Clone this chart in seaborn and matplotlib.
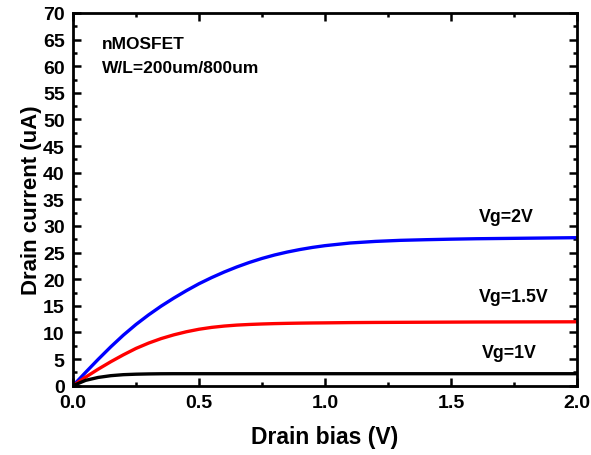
import numpy as np
import pandas as pd
import matplotlib
matplotlib.use("Agg")
import matplotlib.pyplot as plt
import seaborn as sns
from matplotlib.ticker import MultipleLocator, FormatStrFormatter

# Drain bias (V)
vd = [0.0, 0.05, 0.1, 0.15, 0.2, 0.25, 0.3, 0.35, 0.4, 0.45, 0.5, 0.55, 0.6,
      0.65, 0.7, 0.75, 0.8, 0.85, 0.9, 0.95, 1.0,
      1.1, 1.2, 1.3, 1.4, 1.5, 1.6, 1.8, 2.0]
# Drain current (uA) for each gate voltage
id_vg2 = [0.0, 2.5, 4.95, 7.3, 9.5, 11.5, 13.3, 14.95, 16.45, 17.85, 19.15,
          20.3, 21.35, 22.3, 23.15, 23.9, 24.55, 25.1, 25.57, 25.97, 26.3,
          26.8, 27.1, 27.3, 27.42, 27.52, 27.6, 27.7, 27.8]
id_vg15 = [0.0, 1.6, 3.1, 4.5, 5.8, 7.0, 8.0, 8.85, 9.55, 10.13, 10.6,
           10.95, 11.2, 11.38, 11.5, 11.59, 11.66, 11.71, 11.75, 11.78, 11.8,
           11.85, 11.88, 11.9, 11.92, 11.94, 11.96, 11.98, 12.0]
id_vg1 = [0.0, 1.0, 1.55, 1.88, 2.07, 2.16, 2.21, 2.24, 2.25, 2.25, 2.25,
          2.25, 2.25, 2.25, 2.25, 2.25, 2.25, 2.25, 2.25, 2.25, 2.25,
          2.25, 2.25, 2.25, 2.25, 2.25, 2.25, 2.25, 2.25]

labels = ["Vg=2V", "Vg=1.5V", "Vg=1V"]
colors = ["#0000ff", "#ff0000", "#000000"]

df = pd.DataFrame({
    "vd": vd * 3,
    "id": id_vg2 + id_vg15 + id_vg1,
    "vg": [labels[0]] * len(vd) + [labels[1]] * len(vd) + [labels[2]] * len(vd),
})

sns.set_style("ticks")
plt.rcParams["font.family"] = ["Liberation Sans", "DejaVu Sans"]
plt.rcParams["font.weight"] = "bold"
plt.rcParams["text.color"] = "black"
plt.rcParams["axes.labelcolor"] = "black"
plt.rcParams["xtick.color"] = "black"
plt.rcParams["ytick.color"] = "black"
plt.rcParams["axes.edgecolor"] = "black"

fig = plt.figure(figsize=(5.91, 4.56), dpi=100)
ax = fig.add_axes([0.1235, 0.152, 0.8528, 0.8173])

sns.lineplot(data=df, x="vd", y="id", hue="vg", palette=colors,
             hue_order=labels, linewidth=2.4, legend=False, ax=ax)

ax.set_xlim(0, 2.0)
ax.set_ylim(0, 70)
ax.xaxis.set_major_locator(MultipleLocator(0.5))
ax.xaxis.set_minor_locator(MultipleLocator(0.25))
ax.yaxis.set_major_locator(MultipleLocator(5))
ax.yaxis.set_minor_locator(MultipleLocator(2.5))
ax.tick_params(which="both", direction="in", top=True, right=True,
               width=1.8, labelsize=14, pad=6)
ax.tick_params(which="major", length=6)
ax.tick_params(which="minor", length=3)
ax.xaxis.set_major_formatter(FormatStrFormatter("%.1f"))
for lbl in ax.get_xticklabels() + ax.get_yticklabels():
    lbl.set_fontweight("bold")
for sp in ax.spines.values():
    sp.set_linewidth(2)
    sp.set_visible(True)

ax.set_xlabel("Drain bias (V)", fontsize=16.5, fontweight="bold", labelpad=10)
ax.set_ylabel("Drain current (uA)", fontsize=16, fontweight="bold", labelpad=1)

ax.text(0.115, 64.2, "nMOSFET", fontsize=12.5, fontweight="bold", va="center")
ax.text(0.115, 59.8, "W/L=200um/800um", fontsize=12.5, fontweight="bold", va="center")
ax.text(1.72, 31.7, "Vg=2V", fontsize=12.8, fontweight="bold", ha="center", va="center")
ax.text(1.75, 16.7, "Vg=1.5V", fontsize=12.8, fontweight="bold", ha="center", va="center")
ax.text(1.73, 6.3, "Vg=1V", fontsize=12.8, fontweight="bold", ha="center", va="center")

fig.savefig("out.png", dpi=100)
